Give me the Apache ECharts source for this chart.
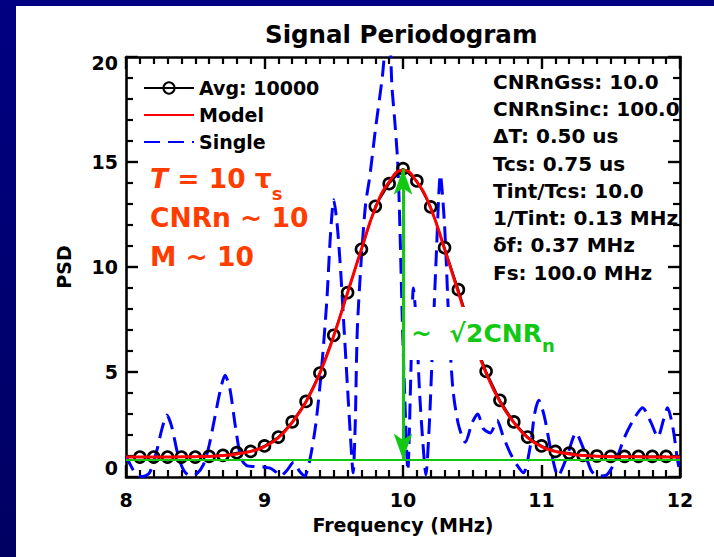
<!DOCTYPE html>
<html><head><meta charset="utf-8">
<script src="https://cdn.jsdelivr.net/npm/echarts@6/dist/echarts.min.js"></script>
<style>
html,body{margin:0;padding:0;}
body{width:714px;height:557px;overflow:hidden;background:linear-gradient(#000082,#000062);}
#c{position:absolute;left:16px;top:6px;width:698px;height:551px;background:#ffffff;}
</style></head><body><div id="c"></div>
<script>
// ---- data ----
const avgFreq = [8.1,8.2,8.3,8.4,8.5,8.6,8.7,8.8,8.9,9.0,9.1,9.2,9.3,9.4,9.5,9.6,9.7,9.8,9.9,10.0,10.1,10.2,10.3,10.4,10.5,10.6,10.7,10.8,10.9,11.0,11.1,11.2,11.3,11.4,11.5,11.6,11.7,11.8,11.9];
const avgVals = [0.95,0.95,0.95,0.95,0.95,0.98,1.03,1.16,1.22,1.48,1.90,2.62,3.60,4.95,6.75,8.78,10.84,12.89,13.97,14.68,14.10,12.86,10.92,8.92,6.80,5.03,3.65,2.62,1.90,1.48,1.22,1.14,1.03,1.00,0.98,0.98,0.98,0.98,0.98];
const modelFreq = [8.0,8.1,8.2,8.3,8.4,8.5,8.6,8.7,8.8,8.9,9.0,9.1,9.2,9.3,9.4,9.5,9.6,9.7,9.8,9.9,10.0,10.1,10.2,10.3,10.4,10.5,10.6,10.7,10.8,10.9,11.0,11.1,11.2,11.3,11.4,11.5,11.6,11.7,11.8,11.9,12.0];
const modelVals = [0.95,0.95,0.95,0.95,0.96,0.97,0.98,1.02,1.10,1.22,1.45,1.88,2.60,3.58,4.95,6.72,8.78,10.85,12.80,14.05,14.62,14.05,12.80,10.85,8.78,6.72,4.95,3.58,2.60,1.88,1.45,1.22,1.10,1.02,0.99,0.97,0.96,0.96,0.95,0.95,0.95];
const singleFreq = [8.00,8.03,8.07,8.12,8.17,8.22,8.26,8.295,8.33,8.37,8.41,8.46,8.51,8.56,8.60,8.64,8.68,8.715,8.75,8.79,8.83,8.87,8.93,8.99,9.04,9.08,9.115,9.16,9.21,9.25,9.29,9.33,9.37,9.41,9.45,9.475,9.50,9.525,9.55,9.575,9.60,9.62,9.64,9.655,9.67,9.70,9.73,9.76,9.80,9.85,9.885,9.905,9.92,9.94,9.96,9.97,9.98,9.995,10.01,10.035,10.055,10.075,10.095,10.12,10.145,10.165,10.19,10.215,10.24,10.27,10.30,10.33,10.36,10.40,10.45,10.50,10.54,10.58,10.63,10.68,10.72,10.77,10.82,10.87,10.92,10.95,10.98,11.02,11.07,11.12,11.18,11.25,11.30,11.36,11.41,11.47,11.54,11.60,11.67,11.73,11.79,11.84,11.88,11.91,11.95,11.98,12.00];
const singleVals = [1.0,0.6,0.15,0.02,0.2,1.2,2.3,2.95,2.4,1.2,0.4,0.05,0.15,0.6,1.5,2.8,4.1,4.85,4.2,2.4,0.9,0.55,0.5,0.48,0.42,0.25,0.05,0.3,0.7,0.3,0.05,0.9,2.5,5.0,8.4,11.4,13.2,12.0,9.8,7.0,4.2,2.0,0.2,2.5,7.0,10.5,13.0,14.3,16.5,19.0,21.0,20.8,18.6,17.0,15.2,13.6,11.3,7.5,4.3,0.3,4.5,9.0,7.5,4.0,1.5,0.1,2.5,6.5,10.5,14.4,12.0,7.5,4.2,2.5,1.65,2.6,3.0,2.3,2.1,2.7,2.0,1.2,0.6,0.2,1.5,3.0,3.65,2.9,1.2,0.05,0.9,2.1,1.4,0.3,0.05,0.1,0.85,1.9,2.8,3.3,2.6,1.9,2.7,3.3,2.3,0.9,0.2];
const xRange = [8, 12];
const yRange = [0, 20];
const xTickStep = 1;
const yTickStep = 5;
const noiseFloor = 0.83;      // green horizontal line
const peakFreq = 10.0;        // green arrow position
const peakValue = 14.68;      // green arrow top
const legendNames = ['Avg: 10000','Model','Single'];
const infoLines = ['CNRnGss: 10.0','CNRnSinc: 100.0','\u0394T: 0.50 us','Tcs: 0.75 us','Tint/Tcs: 10.0','1/Tint: 0.13 MHz','\u03b4f: 0.37 MHz','Fs: 100.0 MHz'];

const zip = (a,b) => a.map((v,i)=>[v,b[i]]);
const F = 'DejaVu Sans';
const GREEN = '#12c812';
const ORANGE = '#ff3d00';
const LBL = {fontFamily:F, fontWeight:'bold', fontSize:19, color:'#000'};

function frameAxis(pos, isX, labels){
  const ax = {
    position: pos, type:'value',
    min: isX ? xRange[0] : yRange[0], max: isX ? xRange[1] : yRange[1],
    interval: isX ? xTickStep : yTickStep,
    axisLine:{show:true, onZero:false, lineStyle:{color:'#000', width:2.6}},
    axisTick:{show:true, inside:true, length:12, lineStyle:{color:'#000', width:2.4}},
    minorTick:{show:true, splitNumber: isX ? 10 : 5, length:7, lineStyle:{color:'#000', width:2.2}},
    splitLine:{show:false},
    axisLabel: {show:false}
  };
  if (labels) {
    ax.axisLabel = Object.assign({show:true, margin: isX ? 13 : 8}, LBL);
    if (!isX) {
      ax.axisLabel.formatter = v => v === yRange[0] ? '{lo|' + v + '}' : (v === yRange[1] ? '{hi|' + v + '}' : String(v));
      ax.axisLabel.rich = {
        lo: Object.assign({padding:[0,0,18,0]}, LBL),
        hi: Object.assign({padding:[12,0,0,0]}, LBL)
      };
    }
  }
  return ax;
}

const xAxes = [
  Object.assign(frameAxis('bottom', true, true), {name:'Frequency (MHz)', nameLocation:'middle', nameGap:38,
    nameTextStyle:LBL}),
  frameAxis('top', true, false)
];
const yAxes = [
  Object.assign(frameAxis('left', false, true), {name:'PSD', nameLocation:'middle', nameGap:53,
    nameTextStyle:LBL}),
  frameAxis('right', false, false)
];

const chart = echarts.init(document.getElementById('c'), null, {renderer:'svg'});
chart.setOption({
  animation:false,
  backgroundColor:'#ffffff',
  title:{text:'Signal Periodogram', left:249, top:16, padding:0,
    textStyle:{color:'#000', fontFamily:F, fontWeight:'bold', fontSize:24.5}},
  grid:{left:110, top:51, width:554, height:420},
  xAxis: xAxes,
  yAxis: yAxes,
  legend:{show:true, orient:'vertical', left:122, top:67, itemWidth:50, itemHeight:14, itemGap:7,
    selectedMode:false,
    data:[{name:legendNames[0]},{name:legendNames[1], itemStyle:{opacity:0}},{name:legendNames[2], itemStyle:{opacity:0}}],
    textStyle:{color:'#000', fontFamily:F, fontWeight:'bold', fontSize:19, lineHeight:20}},
  graphic:[
    {type:'text', z:1, left:477, top:62, silent:true,
      style:{text: infoLines.join('\n'), fill:'#000', font:'bold 20px "DejaVu Sans"', lineHeight:27.3}},
    {type:'text', z:20, left:134, top:159, silent:true,
      style:{text:'{it|T}{n| = 10 }{tau|\u03c4}{sub|s}\n{n|CNRn ~ 10}\n{n|M ~ 10}',
        rich:{
          it:{fontFamily:F, fontWeight:'bold', fontStyle:'italic', fontSize:26.5, fill:ORANGE, lineHeight:39},
          n:{fontFamily:F, fontWeight:'bold', fontSize:26.5, fill:ORANGE, lineHeight:39},
          tau:{fontFamily:F, fontWeight:'bold', fontSize:26.5, fill:ORANGE, lineHeight:39},
          sub:{fontFamily:F, fontWeight:'bold', fontSize:18, fill:ORANGE, lineHeight:18, verticalAlign:'bottom', padding:[0,0,-4,0]}
        }}},
    {type:'rect', z:20, silent:true, shape:{x:391, y:301, width:158, height:53}, style:{fill:'#ffffff'}},
    {type:'text', z:21, left:395, top:315, silent:true,
      style:{text:'{n|~  \u221a2CNR}{sub|n}',
        rich:{
          n:{fontFamily:F, fontWeight:'bold', fontSize:25, fill:GREEN, lineHeight:26},
          sub:{fontFamily:F, fontWeight:'bold', fontSize:18, fill:GREEN, lineHeight:18, verticalAlign:'bottom', padding:[0,0,-8,0]}
        }}}
  ],
  series:[
    {name:'Single', type:'line', data: zip(singleFreq, singleVals), xAxisIndex:0, yAxisIndex:0,
      symbol:'none', smooth:0.25, z:2, clip:true,
      lineStyle:{color:'#0000ff', width:3, type:[16,8]}, itemStyle:{color:'#0000ff'}},
    {name:'Avg: 10000', type:'line', data: zip(avgFreq, avgVals), xAxisIndex:0, yAxisIndex:0,
      symbol:'circle', symbolSize:11, showAllSymbol:true, z:3,
      lineStyle:{color:'#000', width:2},
      itemStyle:{color:'rgba(255,255,255,0)', borderColor:'#000', borderWidth:2.6}},
    {name:'Model', type:'line', data: zip(modelFreq, modelVals), xAxisIndex:0, yAxisIndex:0,
      symbol:'none', smooth:0.5, z:4,
      lineStyle:{color:'#ff0000', width:3}, itemStyle:{color:'#ff0000'}},
    {name:'annot', type:'line', data:[], xAxisIndex:0, yAxisIndex:0, z:30,
      markLine:{silent:true, z:30, animation:false, label:{show:false},
        data:[
          [{coord:[xRange[0], noiseFloor], symbol:'none'},{coord:[xRange[1], noiseFloor], symbol:'none'}],
          [{coord:[peakFreq, noiseFloor], symbol:'arrow', symbolSize:[14,26], lineStyle:{width:3}},
           {coord:[peakFreq, peakValue], symbol:'arrow', symbolSize:[14,26]}]
        ],
        lineStyle:{color:GREEN, width:2, type:'solid'}, itemStyle:{color:GREEN}}}
  ]
});
</script></body></html>
